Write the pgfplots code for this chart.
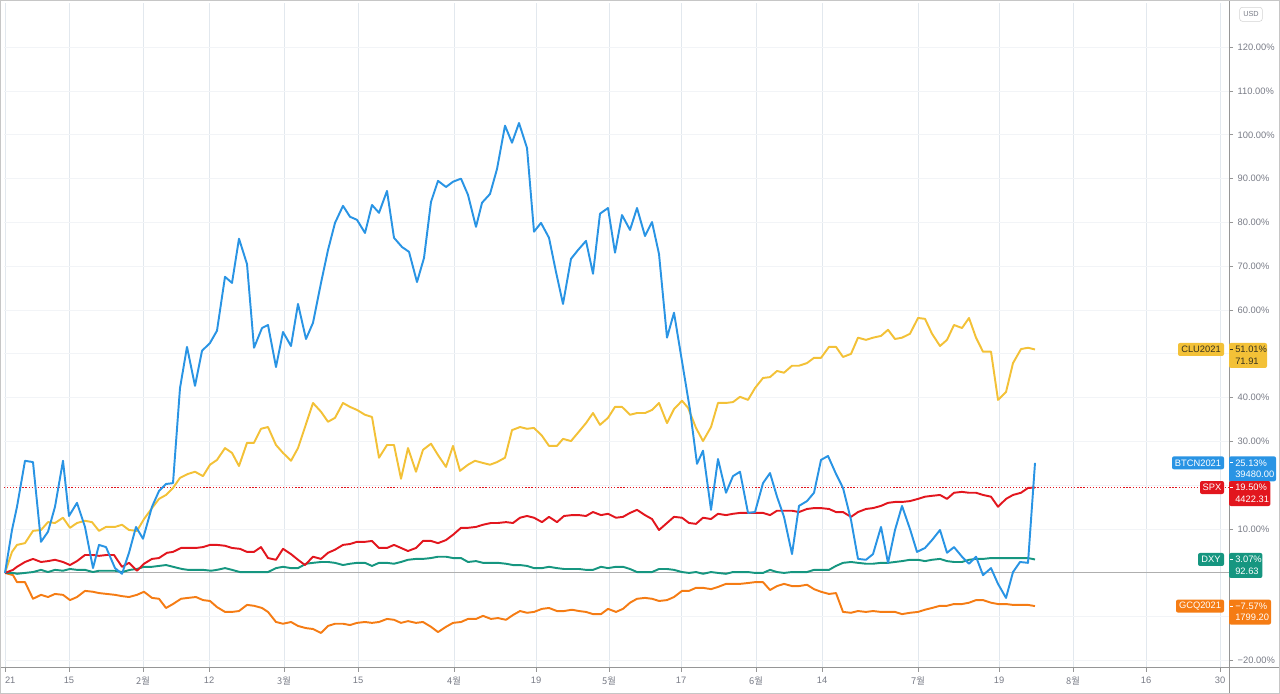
\documentclass[border=0pt]{standalone}
\usepackage{pgfplots}
\pgfplotsset{compat=1.18}
\usepackage{pgfplotstable}
\usepackage{fontspec}
\setmainfont{Liberation Sans}
\newfontfamily\kr{Noto Sans CJK KR}
\newcommand\lab{\fontsize{7}{8}\selectfont}
\definecolor{cBTC}{RGB}{41,148,228}
\definecolor{cCL}{RGB}{243,193,55}
\definecolor{cSPX}{RGB}{226,22,30}
\definecolor{cDXY}{RGB}{22,150,128}
\definecolor{cGC}{RGB}{245,124,20}
\definecolor{axisgray}{RGB}{150,150,150}
\definecolor{ticktext}{RGB}{120,123,134}
\definecolor{gridc}{RGB}{226,232,238}
\definecolor{gridh}{RGB}{242,244,247}
\definecolor{zerogray}{RGB}{175,175,175}
\definecolor{labdark}{RGB}{55,50,30}

\pgfplotstableread{
x y
5 0
12 9.8
17 15.1
25 25.6
33 25.3
41 7.1
48 9.4
55 15.1
63 25.6
69 13.0
77 16.0
85 10.5
93 1.1
99 6.4
106 5.9
115 1.1
122 -0.2
129 4.6
136 10.5
143 7.8
152 15.1
159 18.7
166 20.3
173 20.5
180 42.2
187 51.6
195 42.7
202 50.7
210 52.5
217 55.3
225 67.6
232 66.2
239 76.3
247 70.5
254 51.4
262 55.9
268 56.6
276 47.0
283 55.0
291 51.8
298 61.4
306 53.4
313 57.1
321 66.2
328 73.7
335 79.9
343 83.8
350 81.3
357 80.6
365 77.6
372 84.0
379 82.2
387 87.2
394 76.5
402 74.4
409 73.3
417 66.4
424 71.9
431 84.7
438 89.5
446 88.1
453 89.3
461 90.0
468 86.3
476 79.0
482 84.5
490 86.5
497 92.2
505 102.1
512 98.2
519 102.7
527 97.0
534 77.9
541 79.9
549 76.5
556 68.7
563 61.4
571 71.7
578 73.7
586 75.8
593 68.3
600 82.0
608 83.3
615 73.1
622 81.7
630 78.3
637 83.3
645 76.9
652 80.1
659 72.8
667 53.7
674 59.4
690 37.2
697 24.9
703 27.9
711 14.4
718 26.0
726 18.3
733 22.1
740 23.1
748 13.7
755 13.9
763 20.5
770 22.8
777 17.4
784 12.8
792 4.3
799 15.3
807 16.4
814 18.3
821 25.8
828 26.7
836 22.6
843 19.4
851 12.1
858 3.2
866 3.0
873 4.3
881 10.5
888 2.3
895 9.8
902 15.3
910 10.0
917 4.8
925 5.7
932 7.5
940 9.8
947 4.6
954 5.9
962 3.7
969 2.1
976 3.7
983 -0.5
991 1.1
998 -2.5
1006 -5.7
1013 0.2
1020 2.5
1028 2.3
1035 25.13
}\btc

\pgfplotstableread{
x y
5 0
12 4.8
17 6.4
25 6.8
33 9.6
41 9.8
48 11.6
55 11.4
63 12.6
70 10.3
77 11.4
85 11.9
92 11.6
99 9.6
106 10.5
115 10.5
122 11.0
129 9.8
137 9.6
144 12.3
152 14.8
159 16.9
166 17.8
173 19.4
180 21.7
188 22.6
195 23.1
203 22.1
210 24.7
217 25.8
225 28.5
232 27.4
239 24.4
247 29.7
254 29.7
261 32.9
268 33.3
276 29.2
283 27.4
291 25.6
298 28.5
305 33.3
313 38.8
321 36.8
328 34.5
335 35.4
343 38.8
350 37.9
357 37.2
365 36.1
372 35.6
379 26.3
387 29.2
394 29.2
401 21.5
408 28.5
416 23.1
423 28.1
431 29.5
438 26.9
446 24.2
453 29.0
460 23.3
468 24.7
475 25.6
483 25.1
490 24.7
497 25.3
505 26.3
512 32.6
520 33.3
527 32.9
534 33.1
542 31.3
549 29.0
557 29.0
563 30.6
571 30.1
578 32.0
586 34.2
593 36.5
600 33.8
608 35.4
615 37.9
622 37.9
630 36.1
637 36.5
645 36.5
652 37.2
659 38.8
667 34.2
674 37.4
682 39.3
688 37.7
696 33.1
703 30.1
711 33.3
718 38.8
726 38.8
733 39.0
740 40.2
748 39.5
755 42.2
763 44.5
770 44.7
777 46.1
784 45.7
792 47.3
799 47.3
807 47.9
814 49.1
821 49.1
829 51.6
836 51.6
843 49.3
851 50.0
858 53.7
866 53.2
873 53.7
881 54.1
888 55.5
895 53.4
902 53.7
910 54.6
918 58.2
925 58.0
932 54.6
940 51.8
947 53.2
954 56.6
962 55.9
969 58.2
976 53.7
983 50.5
991 50.5
998 39.5
1006 41.3
1013 47.9
1021 51.1
1028 51.4
1035 51.01
}\clu

\pgfplotstableread{
x y
5 0
13 0.7
17 1.4
25 2.5
33 3.2
41 2.5
48 2.7
55 3.0
63 2.5
70 1.8
77 2.7
85 4.1
93 4.1
99 3.9
107 4.1
114 4.1
122 1.4
129 2.3
137 0.5
144 2.1
152 3.2
159 3.4
167 4.6
173 4.8
181 5.7
188 5.7
196 5.7
203 5.9
210 6.4
217 6.4
225 6.2
232 5.7
240 5.5
247 4.8
254 4.8
261 5.9
268 3.4
276 3.0
283 5.5
291 4.3
298 3.0
305 1.8
313 3.7
321 3.2
328 4.6
335 5.3
343 6.4
350 6.6
357 7.1
365 7.1
372 7.3
379 5.7
387 5.7
394 6.4
401 5.7
408 5.0
416 5.7
423 7.3
431 7.3
438 6.8
446 7.5
453 8.7
461 10.3
468 10.3
476 10.5
483 11.0
491 11.4
498 11.4
506 11.6
513 11.4
520 12.6
527 13.0
534 12.6
542 11.6
549 12.8
557 11.6
564 13.0
572 13.2
579 13.2
586 13.0
593 13.9
601 13.2
608 13.5
616 12.6
623 12.8
630 13.7
637 14.4
645 13.2
652 12.3
659 9.8
667 11.4
674 12.8
682 12.6
689 11.4
696 11.2
703 12.6
711 12.3
718 13.5
726 13.2
733 13.5
740 13.7
748 13.7
755 13.7
763 13.7
770 13.2
777 14.2
784 14.2
792 14.2
799 13.9
807 14.6
814 14.8
821 14.8
829 14.6
836 13.9
843 13.9
851 12.8
858 13.9
866 14.6
873 14.8
881 15.3
888 16.0
895 16.2
902 16.2
910 16.4
918 16.9
925 17.4
932 17.6
940 17.8
947 16.9
954 18.3
962 18.5
969 18.3
976 18.3
983 17.8
991 17.4
998 15.1
1006 16.9
1013 17.8
1021 18.3
1028 19.4
1035 19.50
}\spx

\pgfplotstableread{
x y
5 0
13 0
17 -0.2
25 0
33 0.2
41 0.7
48 0.2
55 0.7
63 0.5
70 0.9
77 0.7
85 0.7
93 0.2
99 0.5
107 0.5
115 0.5
122 0.2
130 0.7
137 0.9
144 1.4
152 1.4
159 1.6
166 1.8
173 1.4
182 0.9
188 0.7
196 0.7
203 0.7
211 0.5
217 0.7
225 1.1
232 0.7
240 0.2
247 0.2
254 0.2
262 0.2
268 0.2
276 1.1
283 1.4
291 1.1
298 1.1
306 2.1
313 2.3
321 2.5
328 2.5
335 2.3
343 1.8
350 2.1
357 2.3
365 2.3
372 1.6
379 2.3
387 2.3
394 2.1
401 2.5
408 3.0
416 3.2
423 3.2
431 3.4
438 3.7
446 3.7
453 3.4
461 3.4
468 2.5
476 2.7
483 2.3
491 2.3
498 2.3
506 2.1
513 1.8
520 1.8
527 1.6
534 1.1
542 1.1
549 1.4
557 1.1
564 0.9
572 0.9
579 0.9
586 0.7
593 0.7
601 1.4
608 1.1
616 1.4
623 1.4
630 0.9
637 0.2
645 0.2
652 0.2
659 0.9
667 0.9
674 0.7
682 0.2
689 0
696 0.2
703 -0.2
711 0.2
718 0
726 -0.2
733 0.2
740 0.2
748 0.2
755 0
763 0
770 0.7
777 0.2
784 0
792 0.2
799 0.2
807 0.2
814 0.7
821 0.7
829 0.7
836 1.6
843 2.3
851 2.5
858 2.3
866 2.1
873 2.1
881 2.3
888 2.3
895 2.5
902 2.7
910 3.0
918 3.0
925 2.7
932 3.0
940 3.2
947 2.7
954 2.5
962 2.5
969 3.0
976 3.2
983 3.2
991 3.4
998 3.4
1006 3.4
1013 3.4
1021 3.4
1028 3.4
1035 3.07
}\dxy

\pgfplotstableread{
x y
5 0
13 -0.5
17 -2.1
25 -2.1
33 -5.9
41 -5.0
48 -5.5
55 -4.8
63 -5.0
70 -6.2
77 -5.5
85 -4.1
93 -4.3
99 -4.6
107 -4.8
115 -5.0
122 -5.3
129 -5.5
137 -5.0
144 -4.3
152 -5.7
159 -5.9
166 -8.0
173 -7.1
181 -5.9
188 -5.7
196 -5.5
203 -6.2
210 -6.4
217 -7.8
225 -8.9
232 -8.9
239 -8.7
247 -7.3
254 -7.5
262 -8.0
268 -8.9
276 -11.2
283 -11.6
291 -11.2
298 -12.1
306 -12.6
313 -12.8
321 -13.7
328 -12.1
335 -11.6
343 -11.6
350 -11.9
357 -11.4
365 -11.2
372 -11.4
379 -11.2
387 -10.5
394 -10.7
401 -11.4
408 -11.0
416 -11.4
423 -11.2
431 -12.3
438 -13.5
446 -12.3
453 -11.4
461 -11.2
468 -10.5
476 -10.5
483 -9.8
491 -10.5
498 -10.3
506 -10.7
513 -9.6
520 -8.7
527 -9.1
534 -8.9
542 -8.2
549 -8.0
557 -8.7
564 -8.7
572 -8.4
579 -8.7
586 -8.9
593 -9.4
601 -9.4
608 -8.2
616 -8.9
623 -8.2
630 -6.8
637 -5.9
645 -5.7
652 -5.9
659 -6.4
667 -6.2
674 -5.5
682 -4.1
689 -4.1
696 -3.4
703 -3.4
711 -3.7
718 -3.2
726 -2.5
733 -2.5
740 -2.5
748 -2.3
755 -2.1
763 -2.1
770 -3.9
777 -3.0
784 -2.5
792 -3.0
799 -3.0
807 -2.7
814 -3.7
821 -4.3
829 -4.8
836 -4.6
843 -8.9
851 -9.1
858 -8.7
866 -8.9
873 -8.7
881 -8.9
888 -8.9
895 -8.9
902 -9.4
910 -9.1
918 -8.9
925 -8.4
932 -8.0
940 -7.5
947 -7.5
954 -7.1
962 -7.1
969 -6.8
976 -6.2
983 -6.2
991 -6.8
998 -7.1
1006 -7.1
1013 -7.3
1021 -7.3
1028 -7.3
1035 -7.57
}\gcq

\begin{document}
\begin{tikzpicture}
\begin{axis}[
  scale only axis, width=918.75pt, height=498.75pt,
  xmin=4, xmax=1229, ymin=-21.7, ymax=130.1,
  axis x line*=bottom, axis y line*=right,
  axis line style={draw=axisgray, line width=0.75pt, -},
  tick align=outside, major tick length=3pt,
  tick style={draw=axisgray, line width=0.75pt},
  xtick={5,69,143,209,284,358,454,536,609,681,756,822,918,999,1073,1146,1220},
  xticklabels={{\rlap{21}},15,{\kr 2월},12,{\kr 3월},15,{\kr 4월},19,{\kr 5월},17,{\kr 6월},14,{\kr 7월},19,{\kr 8월},16,30},
  ytick={-20,-10,...,120},
  yticklabels={−20.00\%,,,10.00\%,,30.00\%,40.00\%,,60.00\%,70.00\%,80.00\%,90.00\%,100.00\%,110.00\%,120.00\%},
  ticklabel style={font=\fontsize{7}{8}\selectfont, text=ticktext},
  xmajorgrids, ymajorgrids,
  x grid style={gridc, line width=0.75pt},
  y grid style={gridh, line width=0.75pt},
  clip=false,
  every axis plot/.append style={line join=round},
]
\addplot[zerogray, line width=0.75pt] coordinates {(4,0) (1229,0)};
\addplot[cSPX, line width=0.9pt, dash pattern=on 0.9pt off 1.4pt] coordinates {(4,19.5) (1229,19.5)};
\addplot[cCL, line width=1.45pt] table[x=x,y=y] {\clu};
\addplot[cGC, line width=1.45pt] table[x=x,y=y] {\gcq};
\addplot[cDXY, line width=1.45pt] table[x=x,y=y] {\dxy};
\addplot[cSPX, line width=1.45pt] table[x=x,y=y] {\spx};
\addplot[cBTC, line width=1.45pt] table[x=x,y=y] {\btc};
\coordinate (A) at (rel axis cs:0,0);
\coordinate (B) at (rel axis cs:1,1);
\coordinate (C) at (rel axis cs:1,0);
\coordinate (clu) at (axis cs:1229,51.01);
\coordinate (btc) at (axis cs:1229,25.13);
\coordinate (spx) at (axis cs:1229,19.50);
\coordinate (dxy) at (axis cs:1229,3.07);
\coordinate (gcq) at (axis cs:1229,-7.57);
\end{axis}
% extended axis lines
\draw[axisgray, line width=0.75pt] ([xshift=-3pt]A) -- ([xshift=38.25pt]C);
\draw[axisgray, line width=0.75pt] ([yshift=2.25pt]B) -- ([yshift=-19.5pt]C);
% USD box
\node[draw=gray!35, rounded corners=2pt, font=\fontsize{5.5}{6}\selectfont, text=ticktext, inner sep=1.2pt, minimum width=17pt, minimum height=10.5pt] at ([xshift=16.5pt,yshift=-8.5pt]B) {USD};
% label boxes
% CLU
\fill[cCL, rounded corners=1.5pt] ([yshift=4.875pt]clu) rectangle ([xshift=28.5pt,yshift=-13.875pt]clu);
\draw[labdark, line width=0.6pt] ([xshift=0.6pt]clu) -- ([xshift=3.2pt]clu);
\node[anchor=west, inner sep=0, font=\lab, text=labdark] at ([xshift=4.5pt]clu) {51.01\%};
\node[anchor=west, inner sep=0, font=\lab, text=labdark] at ([xshift=4.5pt,yshift=-8.6pt]clu) {71.91};
\fill[cCL, rounded corners=1.5pt] ([xshift=-3.75pt,yshift=4.875pt]clu) rectangle ([xshift=-38.25pt,yshift=-4.875pt]clu);
\node[inner sep=0, font=\lab, text=labdark] at ([xshift=-21pt]clu) {CLU2021};
% BTC
\fill[cBTC, rounded corners=1.5pt] ([yshift=4.875pt]btc) rectangle ([xshift=35.25pt,yshift=-13.875pt]btc);
\draw[white, line width=0.6pt] ([xshift=0.6pt]btc) -- ([xshift=3.2pt]btc);
\node[anchor=west, inner sep=0, font=\lab, text=white] at ([xshift=4.5pt]btc) {25.13\%};
\node[anchor=west, inner sep=0, font=\lab, text=white] at ([xshift=4.5pt,yshift=-8.6pt]btc) {39480.00};
\fill[cBTC, rounded corners=1.5pt] ([xshift=-3.75pt,yshift=4.875pt]btc) rectangle ([xshift=-42.75pt,yshift=-4.875pt]btc);
\node[inner sep=0, font=\lab, text=white] at ([xshift=-23.25pt]btc) {BTCN2021};
% SPX
\fill[cSPX, rounded corners=1.5pt] ([yshift=4.875pt]spx) rectangle ([xshift=31pt,yshift=-13.875pt]spx);
\draw[white, line width=0.6pt] ([xshift=0.6pt]spx) -- ([xshift=3.2pt]spx);
\node[anchor=west, inner sep=0, font=\lab, text=white] at ([xshift=4.5pt]spx) {19.50\%};
\node[anchor=west, inner sep=0, font=\lab, text=white] at ([xshift=4.5pt,yshift=-8.6pt]spx) {4422.31};
\fill[cSPX, rounded corners=1.5pt] ([xshift=-3.75pt,yshift=4.875pt]spx) rectangle ([xshift=-21.75pt,yshift=-4.875pt]spx);
\node[inner sep=0, font=\lab, text=white] at ([xshift=-12.75pt]spx) {SPX};
% DXY
\fill[cDXY, rounded corners=1.5pt] ([yshift=4.875pt]dxy) rectangle ([xshift=25pt,yshift=-13.875pt]dxy);
\draw[white, line width=0.6pt] ([xshift=0.6pt]dxy) -- ([xshift=3.2pt]dxy);
\node[anchor=west, inner sep=0, font=\lab, text=white] at ([xshift=4.5pt]dxy) {3.07\%};
\node[anchor=west, inner sep=0, font=\lab, text=white] at ([xshift=4.5pt,yshift=-8.6pt]dxy) {92.63};
\fill[cDXY, rounded corners=1.5pt] ([xshift=-3.75pt,yshift=4.875pt]dxy) rectangle ([xshift=-23.25pt,yshift=-4.875pt]dxy);
\node[inner sep=0, font=\lab, text=white] at ([xshift=-13.5pt]dxy) {DXY};
% GCQ
\fill[cGC, rounded corners=1.5pt] ([yshift=4.875pt]gcq) rectangle ([xshift=31.5pt,yshift=-13.875pt]gcq);
\draw[white, line width=0.6pt] ([xshift=0.6pt]gcq) -- ([xshift=3.2pt]gcq);
\node[anchor=west, inner sep=0, font=\lab, text=white] at ([xshift=4.5pt]gcq) {−7.57\%};
\node[anchor=west, inner sep=0, font=\lab, text=white] at ([xshift=4.5pt,yshift=-8.6pt]gcq) {1799.20};
\fill[cGC, rounded corners=1.5pt] ([xshift=-3.75pt,yshift=4.875pt]gcq) rectangle ([xshift=-39.75pt,yshift=-4.875pt]gcq);
\node[inner sep=0, font=\lab, text=white] at ([xshift=-21.75pt]gcq) {GCQ2021};
% frame and bounding box
\draw[gray!45, line width=0.75pt] ([xshift=-2.6pt,yshift=-19.1pt]A) rectangle ([xshift=37.85pt,yshift=1.85pt]B);
\pgfresetboundingbox
\useasboundingbox ([xshift=-3pt,yshift=-19.5pt]A) rectangle ([xshift=38.25pt,yshift=2.25pt]B);
\end{tikzpicture}
\end{document}
